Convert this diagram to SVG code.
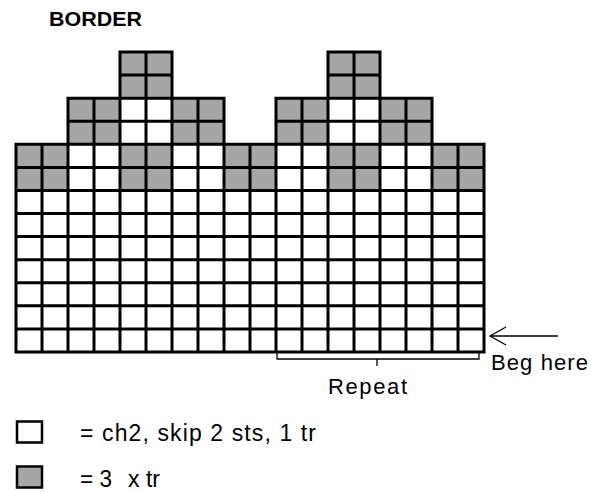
<svg xmlns="http://www.w3.org/2000/svg" width="599" height="492" viewBox="0 0 599 492">
<style>
.t{font-family:"Liberation Sans",Arial,sans-serif;font-size:22px;fill:#000}
.b{font-weight:bold;font-size:21px}
.l{font-size:23px}
.g{fill:#a6a6a6}
.grid{stroke:#000;stroke-width:3;stroke-linecap:square;fill:none}
.thin{stroke:#000;stroke-width:1.3;fill:none}
</style>
<rect width="599" height="492" fill="#fff"/>
<text class="t b" x="49" y="26" textLength="93" lengthAdjust="spacingAndGlyphs">BORDER</text>
<g id="chart">
<rect x="16" y="144.31" width="468" height="207.69" fill="#fff"/>
<g id="gray-cells" class="g">
<rect x="120" y="52" width="52" height="46.15"/>
<rect x="328" y="52" width="52" height="46.15"/>
<rect x="68" y="98.15" width="52" height="46.16"/>
<rect x="172" y="98.15" width="52" height="46.16"/>
<rect x="276" y="98.15" width="52" height="46.16"/>
<rect x="380" y="98.15" width="52" height="46.16"/>
<rect x="16" y="144.31" width="52" height="46.15"/>
<rect x="120" y="144.31" width="52" height="46.15"/>
<rect x="224" y="144.31" width="52" height="46.15"/>
<rect x="328" y="144.31" width="52" height="46.15"/>
<rect x="432" y="144.31" width="52" height="46.15"/>
</g>
<path class="grid" d="M120,52H172M328,52H380M120,75.08H172M328,75.08H380M68,98.15H224M276,98.15H432M68,121.23H224M276,121.23H432M16,144.31H484M16,167.38H484M16,190.46H484M16,213.54H484M16,236.62H484M16,259.69H484M16,282.77H484M16,305.85H484M16,328.92H484M16,352H484M120,52V352M146,52V352M172,52V352M328,52V352M354,52V352M380,52V352M68,98.15V352M94,98.15V352M198,98.15V352M224,98.15V352M276,98.15V352M302,98.15V352M406,98.15V352M432,98.15V352M16,144.31V352M42,144.31V352M250,144.31V352M458,144.31V352M484,144.31V352"/>
</g>
<g id="connectors">
<path class="thin" d="M277,352V359H479V352M377,359V366"/>
<path class="thin" d="M490,336H558M506,327L490,336L506,345"/>
</g>
<text class="t" x="491" y="370" textLength="97" lengthAdjust="spacing">Beg here</text>
<text class="t" x="328" y="394" textLength="79" lengthAdjust="spacing">Repeat</text>
<g id="legend-white">
<rect x="17" y="421.5" width="25" height="21" fill="#fff" stroke="#000" stroke-width="2.5"/>
<text class="t l" x="80" y="441" textLength="236" lengthAdjust="spacing">= ch2, skip 2 sts, 1 tr</text>
</g>
<g id="legend-gray">
<rect x="17" y="466.5" width="25" height="21" class="g" stroke="#000" stroke-width="2.5"/>
<text class="t l" x="80" y="487" textLength="32" lengthAdjust="spacingAndGlyphs">= 3</text>
<text class="t l" x="128" y="487" textLength="32" lengthAdjust="spacingAndGlyphs">x tr</text>
</g>
</svg>
